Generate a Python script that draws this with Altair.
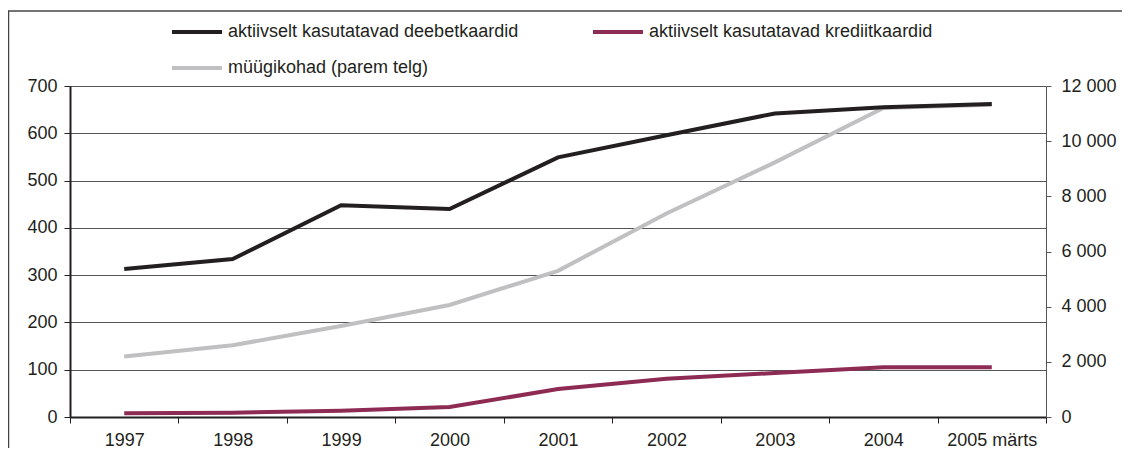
import altair as alt
import pandas as pd

years = ["1997", "1998", "1999", "2000", "2001", "2002", "2003", "2004", "2005 märts"]
debit = [313, 334, 448, 440, 549, 596, 642, 655, 662]
credit = [8, 9, 13, 21, 59, 81, 93, 105, 105]
merchants = [2190, 2600, 3300, 4060, 5300, 7380, 9230, 11200, 11320]

series_names = [
    "aktiivselt kasutatavad deebetkaardid",
    "aktiivselt kasutatavad krediitkaardid",
    "müügikohad (parem telg)",
]
series_colors = ["#231f20", "#8e2b55", "#c0c0c2"]
left_ticks = [0, 100, 200, 300, 400, 500, 600, 700]
right_ticks = [0, 2000, 4000, 6000, 8000, 10000, 12000]

FONT = "Liberation Sans"

left_df = pd.DataFrame(
    {
        "year": years * 2,
        "value": debit + credit,
        "series": [series_names[0]] * len(years) + [series_names[1]] * len(years),
    }
)
right_df = pd.DataFrame(
    {"year": years, "value": merchants, "series": [series_names[2]] * len(years)}
)

color = alt.Color(
    "series:N",
    scale=alt.Scale(domain=series_names, range=series_colors),
    legend=alt.Legend(
        title=None,
        orient="none",
        direction="horizontal",
        legendX=100,
        legendY=-81,
        columns=2,
        columnPadding=66,
        rowPadding=-24,
        symbolType="stroke",
        symbolSize=2500,
        symbolStrokeWidth=4,
        labelFontSize=18,
        labelFont=FONT,
        labelColor="#231f20",
        labelLimit=0,
        labelOffset=4,
    ),
)

x_enc = alt.X(
    "year:N",
    sort=years,
    bandPosition=0.5,
    scale=alt.Scale(type="band", paddingInner=0, paddingOuter=0),
    axis=alt.Axis(
        title=None,
        labelAngle=0,
        tickBand="extent",
        grid=False,
        domainColor="#231f20",
        domainWidth=2,
        tickColor="#231f20",
        tickWidth=1,
        tickSize=6,
        labelPadding=8,
        labelFontSize=18,
        labelFont=FONT,
        labelColor="#231f20",
    ),
)

left = (
    alt.Chart(left_df)
    .mark_line(strokeWidth=4)
    .encode(
        x=x_enc,
        y=alt.Y(
            "value:Q",
            scale=alt.Scale(domain=[0, 700], nice=False),
            axis=alt.Axis(
                title=None,
                values=left_ticks,
                grid=True,
                gridColor="#555555",
                gridWidth=1,
                domainColor="#231f20",
                domainWidth=2,
                tickColor="#231f20",
                tickSize=6,
                labelPadding=7,
                labelFontSize=18,
                labelFont=FONT,
                labelColor="#231f20",
            ),
        ),
        color=color,
    )
)

right = (
    alt.Chart(right_df)
    .mark_line(strokeWidth=4)
    .encode(
        x=x_enc,
        y=alt.Y(
            "value:Q",
            scale=alt.Scale(domain=[0, 12000], nice=False),
            axis=alt.Axis(
                title=None,
                orient="right",
                values=right_ticks,
                grid=False,
                domainColor="#555555",
                domainWidth=1,
                tickColor="#555555",
                tickSize=5,
                labelPadding=10,
                labelFontSize=18,
                labelFont=FONT,
                labelColor="#231f20",
                labelExpr="replace(format(datum.value, ','), ',', ' ')",
            ),
        ),
        color=color,
    )
)

frame_df = pd.DataFrame({"a": [0]})
border_left = (
    alt.Chart(frame_df)
    .mark_rule(color="#444444", strokeWidth=1.5)
    .encode(x=alt.value(-61.5), y=alt.value(-75), y2=alt.value(380))
)
border_top = (
    alt.Chart(frame_df)
    .mark_rule(color="#444444", strokeWidth=1.5)
    .encode(x=alt.value(-62), x2=alt.value(1052), y=alt.value(-75))
)

chart = (
    alt.layer(border_left, border_top, right, left)
    .resolve_scale(y="independent")
    .properties(
        width=976,
        height=331,
        padding={"left": 62, "top": 78, "right": 76, "bottom": 31},
        autosize=alt.AutoSizeParams(type="none"),
        background="white",
    )
    .configure_view(strokeWidth=0)
)

chart.save("out.html", embed_options={"renderer": "svg", "actions": False})
